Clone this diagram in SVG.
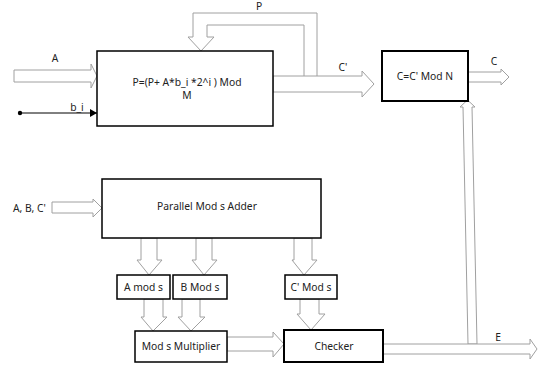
<svg xmlns="http://www.w3.org/2000/svg" width="540" height="366" viewBox="0 0 540 366">
<style>
.box{fill:#fff;stroke:#000;stroke-width:2}
.arr{fill:#fff;stroke:#a0a0a0;stroke-width:1;stroke-linejoin:miter}
.t{font-family:"Noto Sans","Noto Sans CJK KR",sans-serif;font-size:10.3px;fill:#222}
.m{text-anchor:middle}
</style>
<defs>
<marker id="tri" markerWidth="8" markerHeight="8" refX="7" refY="4" orient="auto" markerUnits="userSpaceOnUse">
<path d="M0,0 L7,4 L0,8 Z" fill="#000"/>
</marker>
</defs>
<rect width="540" height="366" fill="#fff"/>
<g id="connectors">
<path class="arr" d="M317,76 L317,13 L193,13 L193,37 L188,37 L201,51 L214,37 L207,37 L207,25 L304,25 L304,76"/>
<polygon class="arr" points="14,70 91,70 91,64 97,76 91,88 91,82 14,82"/>
<line x1="20" y1="113" x2="97" y2="113" stroke="#000" stroke-width="1" marker-end="url(#tri)"/>
<circle cx="20" cy="113" r="2.2" fill="#000"/>
<polygon class="arr" points="273,76 362,76 362,71 374,84 362,97 362,92 273,92"/>
<polygon class="arr" points="468,72 501,72 501,69 509,77 501,85 501,82 468,82"/>
<polygon class="arr" points="468,344 463,107 460,107 467.5,100 475,107 472,107 477,344"/>
<polygon class="arr" points="383,344 530,344 530,339 537,349 530,359 530,354 383,354"/>
<polygon class="arr" points="227,337 273,337 273,332 284,344 273,357 273,351 227,351"/>
<polygon class="arr" points="52,202 93,202 93,199 102,208 93,217 93,213 52,213"/>
<polygon class="arr" points="141,238 157,238 157,260 162,260 149,275 137,260 141,260"/>
<polygon class="arr" points="196,238 212,238 212,260 217,260 204,275 192,260 196,260"/>
<polygon class="arr" points="294,238 312,238 312,260 317,260 304,275 292,260 294,260"/>
<polygon class="arr" points="144,299 163,299 163,317 167,317 153,331 141,317 144,317"/>
<polygon class="arr" points="182,299 200,299 200,317 205,317 191,331 178,317 182,317"/>
<polygon class="arr" points="300,299 319,299 319,314 325,314 311,330 297,314 300,314"/>
<text class="t m" x="55" y="62">A</text>
<text class="t m" x="77" y="111">b_i</text>
<text class="t m" x="259" y="10">P</text>
<text class="t m" x="343" y="71">C'</text>
<text class="t m" x="494" y="65">C</text>
<text class="t m" x="498" y="341">E</text>
<text class="t" x="13" y="212">A, B, C'</text>
</g>
<g id="main">
<rect class="box" x="97" y="51" width="176" height="75" style="stroke-width:1.5"/>
<text class="t m" x="187" y="86">P=(P+ A*b_i *2^i ) Mod</text>
<text class="t m" x="187" y="99">M</text>
</g>
<g id="modn">
<rect class="box" x="382" y="51" width="86" height="50"/>
<text class="t m" x="425" y="80">C=C' Mod N</text>
</g>
<g id="adder">
<rect class="box" x="102" y="179" width="219" height="59" style="stroke-width:1.5"/>
<text class="t m" x="207" y="210">Parallel Mod s Adder</text>
</g>
<g id="amods">
<rect class="box" x="117" y="275" width="53" height="24" style="stroke-width:1.5"/>
<text class="t m" x="143.5" y="291">A mod s</text>
</g>
<g id="bmods">
<rect class="box" x="173" y="275" width="54" height="24" style="stroke-width:1.5"/>
<text class="t m" x="200" y="291">B Mod s</text>
</g>
<g id="cmods">
<rect class="box" x="285" y="275" width="52" height="24" style="stroke-width:1.5"/>
<text class="t m" x="311" y="291">C' Mod s</text>
</g>
<g id="mult">
<rect class="box" x="135" y="331" width="92" height="31" style="stroke-width:1.5"/>
<text class="t m" x="181" y="350">Mod s Multiplier</text>
</g>
<g id="checker">
<rect class="box" x="284" y="330" width="99" height="32"/>
<text class="t m" x="334" y="350">Checker</text>
</g>
</svg>
